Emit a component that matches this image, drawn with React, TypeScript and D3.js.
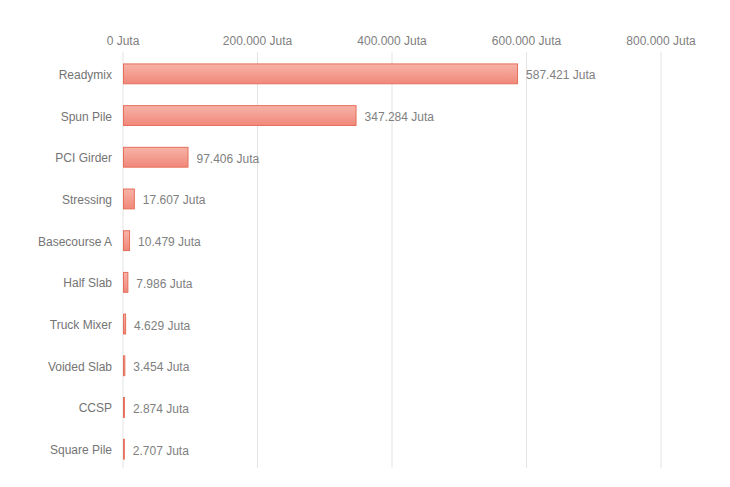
import React from "react";
import * as d3 from "d3";

const categories = ["Readymix", "Spun Pile", "PCI Girder", "Stressing", "Basecourse A", "Half Slab", "Truck Mixer", "Voided Slab", "CCSP", "Square Pile"];
const values = [587421, 347284, 97406, 17607, 10479, 7986, 4629, 3454, 2874, 2707];
const ticks = [0, 200000, 400000, 600000, 800000];

const W = 730, H = 487;
const left = 123, right = 661, top = 53, bottom = 470;

const fmt = (v: number) => d3.format(",")(v).replace(/,/g, ".") + " Juta";

export default function App() {
  const x = d3.scaleLinear().domain([0, 800000]).range([left, right]);
  const y = d3.scaleBand<string>().domain(categories).range([top, bottom]).paddingInner(0.5).paddingOuter(0.25);
  const font = "Liberation Sans, Arial, sans-serif";
  return (
    <svg width={W} height={H} style={{ position: "absolute", left: 0, top: 0 }}>
      <defs>
        <linearGradient id="barGrad" x1="0" y1="0" x2="0" y2="1">
          <stop offset="0%" stopColor="#f7b3a7" />
          <stop offset="100%" stopColor="#f0887a" />
        </linearGradient>
      </defs>
      <rect width={W} height={H} fill="#fff" />
      {ticks.map((t) => (
        <g key={t}>
          <line x1={x(t)} x2={x(t)} y1={52} y2={468} stroke="#e3e3e3" strokeWidth={1} />
          <text x={x(t)} y={45} textAnchor="middle" fontFamily={font} fontSize={12} fill="#808080">{fmt(t)}</text>
        </g>
      ))}
      {categories.map((c, i) => {
        const yy = y(c)!;
        const bw = y.bandwidth();
        return (
          <g key={c}>
            <rect x={x(0) + 0.5} y={yy + 0.5} width={Math.max(0, x(values[i]) - x(0) - 1)} height={bw - 1}
              fill="url(#barGrad)" stroke="#e66f5c" strokeWidth={1} />
            <text x={left - 11} y={yy + bw / 2 + 5} textAnchor="end" fontFamily={font} fontSize={12} fill="#747474">{c}</text>
            <text x={x(values[i]) + 8} y={yy + bw / 2 + 5.5} fontFamily={font} fontSize={12} fill="#808080">{fmt(values[i])}</text>
          </g>
        );
      })}
    </svg>
  );
}
